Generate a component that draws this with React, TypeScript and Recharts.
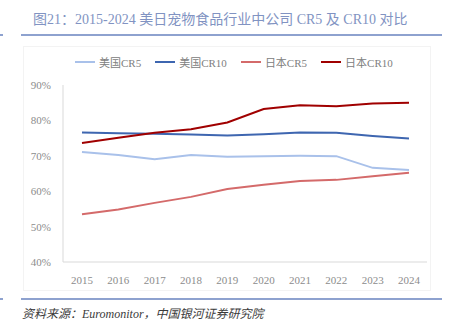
import { LineChart, Line, XAxis, YAxis } from "recharts";

const years = ["2015", "2016", "2017", "2018", "2019", "2020", "2021", "2022", "2023", "2024"];
const usCR5 = [71.1, 70.2, 69.0, 70.2, 69.7, 69.9, 70.0, 69.9, 66.6, 66.0];
const usCR10 = [76.6, 76.4, 76.2, 76.0, 75.7, 76.1, 76.6, 76.5, 75.6, 74.9];
const jpCR5 = [53.5, 54.8, 56.7, 58.4, 60.6, 61.8, 62.9, 63.2, 64.2, 65.2];
const jpCR10 = [73.6, 75.1, 76.5, 77.5, 79.4, 83.2, 84.3, 84.0, 84.8, 85.0];
const yTicks = [40, 50, 60, 70, 80, 90];

const SERIES = [
	{ key: "usCR5", name: "美国CR5", color: "#a9c1ea" },
	{ key: "usCR10", name: "美国CR10", color: "#3e66b0" },
	{ key: "jpCR5", name: "日本CR5", color: "#d46a6a" },
	{ key: "jpCR10", name: "日本CR10", color: "#a00000" },
];

const data = years.map((year, i) => ({
	year,
	usCR5: usCR5[i],
	usCR10: usCR10[i],
	jpCR5: jpCR5[i],
	jpCR10: jpCR10[i],
}));

const FONT = '"Liberation Serif", "Noto Sans CJK SC", serif';
const tick = { fontSize: 11, fill: "#8c8c8c", fontFamily: FONT };
const ruleColor = "#8ea2cf";

export default function App() {
	return (
		<div
			style={{
				position: "absolute",
				left: 0,
				top: 0,
				width: 453,
				height: 330,
				background: "#fff",
				fontFamily: FONT,
				overflow: "hidden",
			}}
		>
			<div
				style={{
					position: "absolute",
					left: 33,
					top: 11,
					fontSize: 14,
					lineHeight: "18px",
					color: "#8193c2",
					whiteSpace: "nowrap",
				}}
			>
				图21：2015-2024 美日宠物食品行业中公司 CR5 及 CR10 对比
			</div>
			<div style={{ position: "absolute", left: 0, top: 34, width: 3, height: 2, background: ruleColor }} />
			<div style={{ position: "absolute", left: 21, top: 34, width: 421, height: 2, background: ruleColor }} />
			<div
				style={{
					position: "absolute",
					left: 23,
					top: 46,
					width: 406,
					height: 243,
					border: "1px solid #f3f3f3",
				}}
			/>

			<div
				style={{
					position: "absolute",
					left: 75,
					top: 54,
					display: "flex",
					alignItems: "center",
					fontSize: 11,
					color: "#808080",
					whiteSpace: "nowrap",
				}}
			>
				{SERIES.map((s) => (
					<div key={s.key} style={{ display: "flex", alignItems: "center", marginRight: 14 }}>
						<div style={{ width: 20, height: 2, background: s.color, marginRight: 4 }} />
						<span>{s.name}</span>
					</div>
				))}
			</div>

			<LineChart
				width={453}
				height={330}
				data={data}
				margin={{ top: 85, right: 26, bottom: 38, left: 22 }}
				style={{ position: "absolute", left: 0, top: 0 }}
			>
				<XAxis
					dataKey="year"
					tick={tick}
					tickLine={false}
					axisLine={{ stroke: "#d9d9d9" }}
					tickMargin={8}
					height={30}
					interval={0}
					padding={{ left: 19, right: 18 }}
				/>
				<YAxis
					domain={[40, 90]}
					ticks={yTicks}
					tick={tick}
					tickLine={false}
					axisLine={{ stroke: "#d9d9d9" }}
					tickFormatter={(v) => `${v}%`}
					tickMargin={6}
					width={41}
					interval={0}
				/>
				{SERIES.map((s) => (
					<Line
						key={s.key}
						type="linear"
						dataKey={s.key}
						name={s.name}
						stroke={s.color}
						strokeWidth={2}
						dot={false}
						isAnimationActive={false}
					/>
				))}
			</LineChart>

			<div style={{ position: "absolute", left: 0, top: 298, width: 3, height: 2, background: ruleColor }} />
			<div style={{ position: "absolute", left: 21, top: 298, width: 421, height: 2, background: ruleColor }} />
			<div
				style={{
					position: "absolute",
					left: 22,
					top: 306,
					fontSize: 12,
					lineHeight: "16px",
					fontStyle: "italic",
					color: "#3a3a3a",
					whiteSpace: "nowrap",
				}}
			>
				资料来源：Euromonitor，中国银河证券研究院
			</div>
		</div>
	);
}
